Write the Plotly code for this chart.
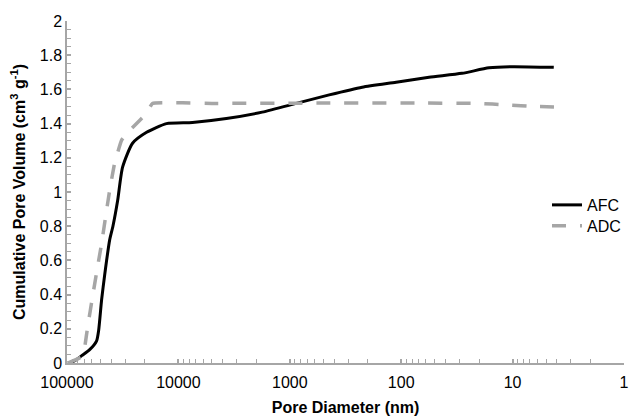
import plotly.graph_objects as go

# ---- data ----
afc_diam = [98000, 85300, 73800, 62600, 54200, 52000, 48900, 45900, 44100, 41400, 38700,
            35100, 31700, 25800, 19300, 12800, 7480, 3710, 1770, 875, 443, 224, 111,
            56.2, 28.5, 16.3, 10.1, 4.27]
afc_vol = [0.0, 0.013, 0.043, 0.078, 0.13, 0.19, 0.37, 0.515, 0.60, 0.72, 0.80,
           0.95, 1.145, 1.285, 1.349, 1.40, 1.407, 1.43, 1.467, 1.518, 1.568, 1.613, 1.642,
           1.671, 1.694, 1.726, 1.733, 1.729]

adc_diam = [98500, 73800, 69300, 65300, 58900, 54200, 48900, 44100, 41400, 37400, 32400,
            27400, 22300, 19300, 17100, 5000, 500, 69, 20, 11.5, 6.17, 3.85]
adc_vol = [0.0, 0.037, 0.095, 0.21, 0.39, 0.53, 0.70, 0.894, 1.01, 1.168, 1.302,
           1.36, 1.418, 1.46, 1.518, 1.518, 1.52, 1.52, 1.518, 1.51, 1.50, 1.497]

x_tickvals = [100000, 10000, 1000, 100, 10, 1]
x_ticktext = ["100000", "10000", "1000", "100", "10", "1"]
series_names = ["AFC", "ADC"]

FONT = "Liberation Sans, Arial, sans-serif"
AXIS_COLOR = "#a6a6a6"

fig = go.Figure()
fig.add_trace(go.Scatter(x=afc_diam, y=afc_vol, mode="lines", name=series_names[0],
                         line=dict(color="#000000", width=3, shape="spline", smoothing=0.6),
                         legend="legend"))
fig.add_trace(go.Scatter(x=adc_diam, y=adc_vol, mode="lines", name=series_names[1],
                         line=dict(color="#a6a6a6", width=3.5, dash="14px,14px",
                                   shape="spline", smoothing=0.3),
                         legend="legend2"))

leg_common = dict(xanchor="left", yanchor="middle", bgcolor="rgba(0,0,0,0)",
                  font=dict(size=16), borderwidth=0)
fig.update_layout(
    width=629, height=416,
    margin=dict(l=67, r=4, t=21, b=53),
    paper_bgcolor="white", plot_bgcolor="white",
    font=dict(family=FONT, size=16, color="#000000"),
    showlegend=True,
    legend=dict(x=(547 - 67) / 558, y=(363.3 - 205) / 342.6, **leg_common),
    legend2=dict(x=(547 - 67) / 558, y=(363.3 - 226) / 342.6, **leg_common),
)
fig.update_xaxes(
    type="log", range=[5, 0], autorange=False, automargin=False,
    tickmode="array", tickvals=x_tickvals, ticktext=x_ticktext,
    ticklabeloverflow="allow", ticklabelstandoff=4,
    showgrid=False, zeroline=False,
    showline=True, linecolor=AXIS_COLOR, linewidth=1.5,
    ticks="inside", ticklen=4, tickcolor=AXIS_COLOR, tickwidth=1.5,
    minor=dict(dtick="D1", ticks="inside", ticklen=4, tickcolor=AXIS_COLOR, tickwidth=1, showgrid=False),
    title=dict(text="<b>Pore Diameter (nm)</b>", font=dict(size=16), standoff=12),
)
fig.update_yaxes(
    range=[0, 2], autorange=False, dtick=0.2, tick0=0, automargin=False,
    showgrid=False, zeroline=False,
    showline=True, linecolor=AXIS_COLOR, linewidth=1.5,
    ticks="inside", ticklen=4, tickcolor=AXIS_COLOR, tickwidth=1.5,
    minor=dict(dtick=0.05, ticks="inside", ticklen=4, tickcolor=AXIS_COLOR, tickwidth=1, showgrid=False),
    title=dict(text="<b>Cumulative Pore Volume (cm<sup>3</sup> g<sup>-1</sup>)</b>", font=dict(size=16), standoff=10),
)

fig.write_html("out.html", config={"displayModeBar": False},
               post_script="document.body.style.margin='0';document.body.style.overflow='hidden';")
